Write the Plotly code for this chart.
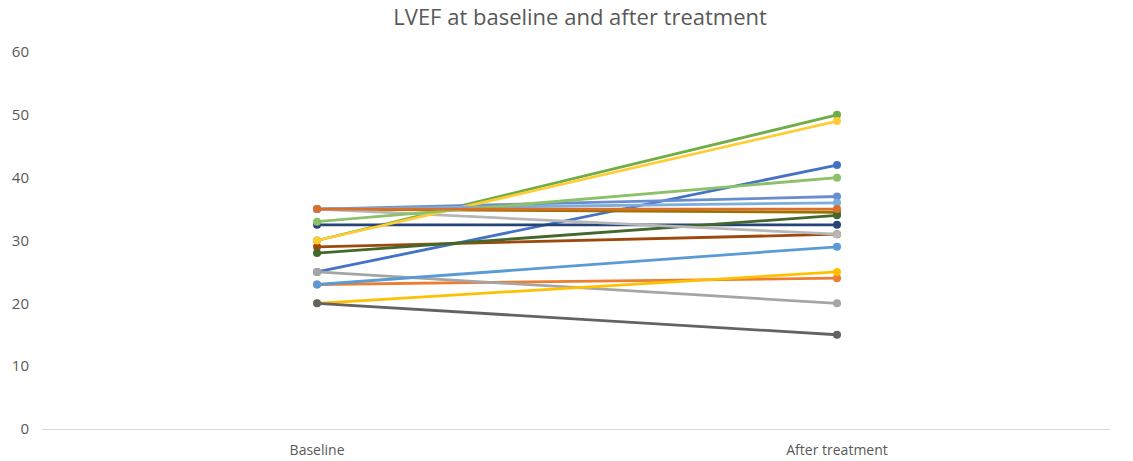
import plotly.graph_objects as go

categories = ["Baseline", "After treatment"]

baseline = [25, 23, 25, 20, 23, 30, 32.5, 29, 20, 35, 28, 35, 35, 30, 35, 33, 35]
after = [42, 24, 20, 25, 29, 50, 32.5, 31, 15, 34.5, 34, 37, 31, 49, 36, 40, 35]
colors = ["#4472C4", "#ED7D31", "#A5A5A5", "#FFC000", "#5B9BD5", "#70AD47",
          "#264478", "#9E480E", "#636363", "#997300", "#43682B", "#698ED0",
          "#B7B7B7", "#FFCD33", "#7CAFDD", "#8CC168", "#D8702C"]

fig = go.Figure()
for b, a, c in zip(baseline, after, colors):
    fig.add_trace(go.Scatter(
        x=[0, 1], y=[b, a], mode="lines+markers",
        line=dict(color=c, width=2.8),
        marker=dict(color=c, size=8),
        showlegend=False, hoverinfo="y",
    ))

fig.update_layout(
    width=1133, height=461,
    margin=dict(l=42, r=23, t=52, b=32, autoexpand=False),
    paper_bgcolor="white", plot_bgcolor="white",
    font=dict(family="Open Sans, Noto Sans, sans-serif", color="#595959", size=12),
    title=dict(text="LVEF at baseline and after treatment", x=0.512, xanchor="center",
               y=0.962, yanchor="middle", font=dict(size=22, color="#595959")),
    xaxis=dict(range=[-0.529, 1.525], tickvals=[0, 1], ticktext=categories,
               showgrid=False, zeroline=False, showline=True, linecolor="#D9D9D9",
               linewidth=1, ticks="", ticklabelstandoff=8, automargin=False,
               tickfont=dict(size=14, color="#595959")),
    yaxis=dict(range=[0, 60], dtick=10, showgrid=False, zeroline=False,
               showline=False, ticks="", ticklabelstandoff=12, automargin=False,
               tickfont=dict(size=15, color="#595959")),
)

fig.write_html("out.html")
